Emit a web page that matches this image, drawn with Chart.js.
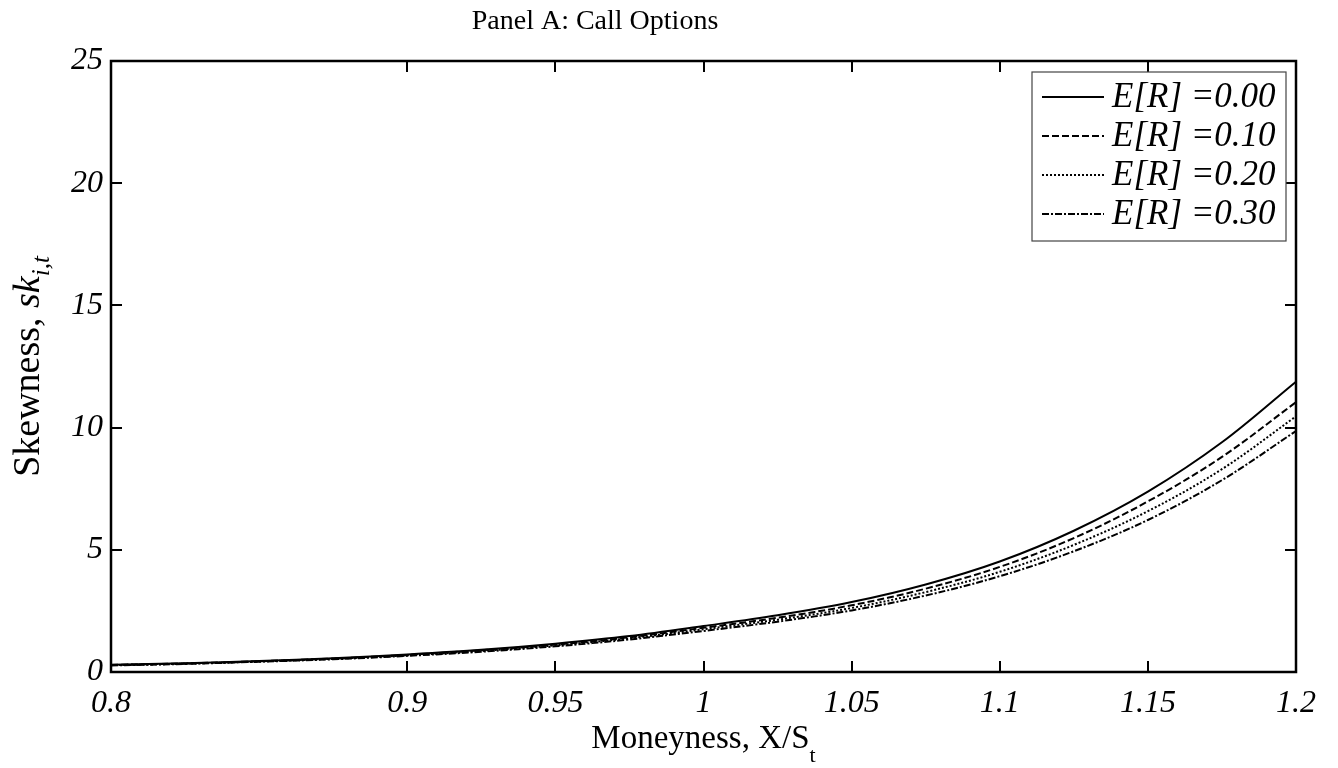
<!DOCTYPE html>
<html>
<head>
<meta charset="utf-8">
<script src="https://cdn.jsdelivr.net/npm/chart.js@4.4.1/dist/chart.umd.min.js"></script>
<style>
html,body{margin:0;padding:0;background:#fff;}
#wrap{position:relative;width:1338px;height:768px;}
</style>
</head>
<body>
<div id="wrap"><canvas id="c" width="1338" height="768"></canvas></div>
<script>
// ---- data ----
const moneyness = [0.8, 0.825, 0.85, 0.875, 0.9, 0.925, 0.95, 0.975, 1.0, 1.025, 1.05, 1.075, 1.1, 1.125, 1.15, 1.175, 1.2];
const skewER000 = [0.30, 0.36, 0.45, 0.56, 0.72, 0.91, 1.16, 1.47, 1.88, 2.32, 2.86, 3.58, 4.52, 5.78, 7.38, 9.40, 11.88];
const skewER010 = [0.29, 0.35, 0.44, 0.55, 0.70, 0.89, 1.12, 1.42, 1.81, 2.22, 2.73, 3.41, 4.30, 5.48, 6.98, 8.80, 11.04];
const skewER020 = [0.28, 0.34, 0.43, 0.54, 0.68, 0.86, 1.09, 1.38, 1.75, 2.14, 2.62, 3.27, 4.10, 5.20, 6.58, 8.30, 10.46];
const skewER030 = [0.27, 0.33, 0.42, 0.52, 0.66, 0.83, 1.05, 1.33, 1.68, 2.06, 2.52, 3.13, 3.92, 4.94, 6.22, 7.85, 9.86];
const seriesLabels = ['E[R] =0.00', 'E[R] =0.10', 'E[R] =0.20', 'E[R] =0.30'];
const xTickValues = [0.8, 0.9, 0.95, 1, 1.05, 1.1, 1.15, 1.2];
const yTickValues = [0, 5, 10, 15, 20, 25];
const titleText = 'Panel A: Call Options';
const xTitleMain = 'Moneyness, X/S';
const xTitleSub = 't';
const yTitleMain = 'Skewness, ';
const yTitleVar = 'sk';
const yTitleSub = 'i,t';

const SERIF = '"Liberation Serif", "Times New Roman", serif';
const dashes = [[], [7, 3], [2, 2], [7, 2, 2, 2]];
const allSeries = [skewER000, skewER010, skewER020, skewER030];

const datasets = allSeries.map((s, i) => ({
  label: seriesLabels[i],
  data: moneyness.map((x, j) => ({x: x, y: s[j]})),
  borderColor: '#000',
  borderWidth: 2,
  borderDash: dashes[i],
  pointRadius: 0,
  tension: 0.35,
  fill: false
}));

function drawSegments(ctx, segs, x, y, align) {
  let total = 0;
  segs.forEach(s => { ctx.font = s.font; s.w = ctx.measureText(s.text).width; total += s.w; });
  let cx = align === 'center' ? x - total / 2 : x;
  ctx.textAlign = 'left';
  ctx.textBaseline = 'alphabetic';
  segs.forEach(s => { ctx.font = s.font; ctx.fillText(s.text, cx, y + (s.dy || 0)); cx += s.w; });
}

const framePlugin = {
  id: 'frame',
  afterDraw(chart) {
    const ctx = chart.ctx;
    const a = chart.chartArea;
    const xs = chart.scales.x, ys = chart.scales.y;
    ctx.save();
    ctx.strokeStyle = '#000';
    ctx.lineWidth = 2.5;
    ctx.strokeRect(a.left, a.top, a.right - a.left, a.bottom - a.top);
    ctx.lineWidth = 2;
    const tl = 11;
    ctx.beginPath();
    xTickValues.forEach(v => {
      const px = Math.round(xs.getPixelForValue(v));
      ctx.moveTo(px, a.bottom); ctx.lineTo(px, a.bottom - tl);
      ctx.moveTo(px, a.top); ctx.lineTo(px, a.top + tl);
    });
    yTickValues.forEach(v => {
      const py = Math.round(ys.getPixelForValue(v));
      ctx.moveTo(a.left, py); ctx.lineTo(a.left + tl, py);
      ctx.moveTo(a.right, py); ctx.lineTo(a.right - tl, py);
    });
    ctx.stroke();

    // legend
    const lx = 1032, ly = 72, lw = 254, lh = 169;
    ctx.fillStyle = '#fff';
    ctx.fillRect(lx, ly, lw, lh);
    ctx.lineWidth = 1.2;
    ctx.strokeStyle = '#444';
    ctx.strokeRect(lx, ly, lw, lh);
    chart.data.datasets.forEach((ds, i) => {
      const cy = 97 + i * 39;
      ctx.save();
      ctx.strokeStyle = '#000';
      ctx.lineWidth = 2;
      ctx.setLineDash(ds.borderDash || []);
      ctx.beginPath(); ctx.moveTo(1042, cy); ctx.lineTo(1104, cy); ctx.stroke();
      ctx.restore();
      ctx.fillStyle = '#000';
      ctx.font = 'italic 35px ' + SERIF;
      ctx.textAlign = 'left';
      ctx.textBaseline = 'middle';
      ctx.fillText(ds.label, 1112, cy + 1);
    });

    // titles
    ctx.fillStyle = '#000';
    drawSegments(ctx, [{text: titleText, font: '28px ' + SERIF}], 595, 29, 'center');
    const xc = (a.left + a.right) / 2;
    drawSegments(ctx, [
      {text: xTitleMain, font: '33px ' + SERIF},
      {text: xTitleSub, font: '22px ' + SERIF, dy: 14}
    ], xc, 748, 'center');
    ctx.save();
    ctx.translate(39, (a.top + a.bottom) / 2);
    ctx.rotate(-Math.PI / 2);
    drawSegments(ctx, [
      {text: yTitleMain, font: '38px ' + SERIF},
      {text: yTitleVar, font: 'italic 38px ' + SERIF},
      {text: yTitleSub, font: 'italic 25px ' + SERIF, dy: 10}
    ], 0, 0, 'center');
    ctx.restore();
    ctx.restore();
  }
};

new Chart(document.getElementById('c'), {
  type: 'line',
  data: { datasets },
  plugins: [framePlugin],
  options: {
    responsive: false,
    animation: false,
    layout: { padding: { left: 0, right: 42, top: 61, bottom: 0 } },
    plugins: { legend: { display: false }, title: { display: false }, tooltip: { enabled: false } },
    scales: {
      x: {
        type: 'linear', min: 0.8, max: 1.2,
        afterBuildTicks: s => { s.ticks = xTickValues.map(v => ({value: v})); },
        afterFit: s => { s.height = 96; },
        grid: { display: false, drawTicks: false },
        border: { display: false },
        ticks: {
          color: '#000', padding: 12, maxRotation: 0, autoSkip: false,
          font: { family: SERIF, size: 32, style: 'italic' },
          callback: v => String(+Number(v).toFixed(2))
        }
      },
      y: {
        type: 'linear', min: 0, max: 25,
        afterBuildTicks: s => { s.ticks = yTickValues.map(v => ({value: v})); },
        afterFit: s => { s.width = 111; },
        grid: { display: false, drawTicks: false },
        border: { display: false },
        ticks: {
          color: '#000', padding: 8,
          font: { family: SERIF, size: 32, style: 'italic' },
          callback: v => String(v)
        }
      }
    }
  }
});
</script>
</body>
</html>
